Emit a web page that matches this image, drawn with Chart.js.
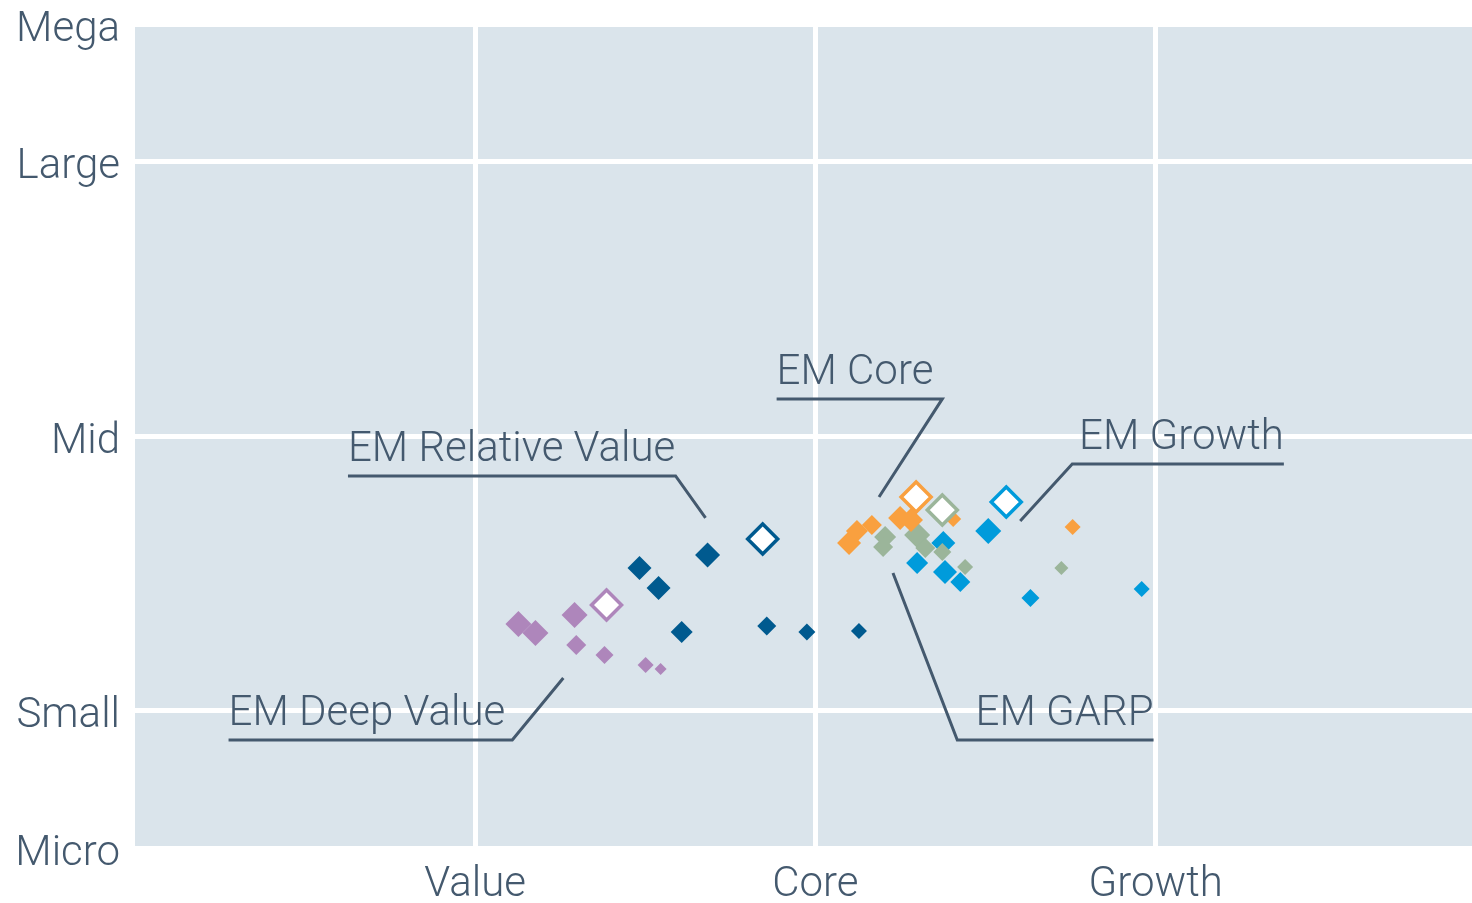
<!DOCTYPE html>
<html>
<head>
<meta charset="utf-8">
<script src="https://cdn.jsdelivr.net/npm/chart.js@4.4.1/dist/chart.umd.min.js"></script>
<style>
  html, body { margin: 0; padding: 0; background: #fff; }
  #wrap { width: 1472px; height: 903px; }
</style>
</head>
<body>
<div id="wrap"><canvas id="styleMap"></canvas></div>
<script>
// axis categories
const styleLabels = ["Value", "Core", "Growth"];
const styleTicks = [1, 2, 3];
const sizeLabels = ["Micro", "Small", "Mid", "Large", "Mega"];
const sizeTicks = [0, 1, 3, 5, 6];

// EM Deep Value
const deepValueX = [1.127, 1.177, 1.292, 1.297, 1.380, 1.501, 1.545];
const deepValueY = [1.631, 1.566, 1.697, 1.478, 1.405, 1.333, 1.303];
const deepValueWeight = [13, 13, 13, 10, 9, 8, 6];
const deepValueBench = [1.386, 1.769];

// EM Relative Value
const relValueX = [1.483, 1.539, 1.683, 1.607, 1.857, 1.975, 2.128];
const relValueY = [2.039, 1.893, 2.134, 1.573, 1.617, 1.573, 1.580];
const relValueWeight = [12, 12, 12.5, 11, 9.5, 8.5, 8];
const relValueBench = [1.845, 2.250];

// EM Core
const coreX = [2.099, 2.122, 2.166, 2.249, 2.281, 2.405, 2.756];
const coreY = [2.221, 2.308, 2.352, 2.403, 2.388, 2.396, 2.337];
const coreWeight = [12, 11, 10, 12, 12, 8, 8];
const coreBench = [2.296, 2.556];

// EM GARP
const garpX = [2.205, 2.199, 2.299, 2.323, 2.373, 2.440, 2.723];
const garpY = [2.265, 2.192, 2.279, 2.185, 2.155, 2.046, 2.039];
const garpWeight = [11, 10, 13, 10, 9, 8, 7];
const garpBench = [2.373, 2.461];

// EM Growth
const growthX = [2.508, 2.376, 2.299, 2.381, 2.426, 2.632, 2.959];
const growthY = [2.308, 2.221, 2.075, 2.010, 1.937, 1.820, 1.886];
const growthWeight = [13, 12, 11, 12, 10, 9, 8];
const growthBench = [2.561, 2.519];

const ink = "#44596e";
const font = "Roboto, 'Liberation Sans', Arial, sans-serif";
const fontSize = 42;

const series = [
  { name: "EM Deep Value", x: deepValueX, y: deepValueY, w: deepValueWeight, bench: deepValueBench, color: "#ae86bb" },
  { name: "EM Relative Value", x: relValueX, y: relValueY, w: relValueWeight, bench: relValueBench, color: "#005a8f" },
  { name: "EM Core", x: coreX, y: coreY, w: coreWeight, bench: coreBench, color: "#f9a03f" },
  { name: "EM GARP", x: garpX, y: garpY, w: garpWeight, bench: garpBench, color: "#9bb59a" },
  { name: "EM Growth", x: growthX, y: growthY, w: growthWeight, bench: growthBench, color: "#009bdb" },
];

// callout leader lines, in data units (first point is where the label sits)
const callouts = [
  { text: "EM Relative Value", align: "left", path: [[0.626, 2.709], [1.589, 2.709], [1.677, 2.403]] },
  { text: "EM Core", align: "left", path: [[1.886, 3.270], [2.373, 3.270], [2.187, 2.556]] },
  { text: "EM Growth", align: "right", path: [[3.377, 2.796], [2.755, 2.796], [2.602, 2.381]] },
  { text: "EM GARP", align: "right", path: [[2.994, 0.786], [2.417, 0.786], [2.228, 2.002]] },
  { text: "EM Deep Value", align: "left", path: [[0.275, 0.786], [1.109, 0.786], [1.259, 1.238]] },
];

const datasets = [];
series.forEach(s => {
  datasets.push({
    label: s.name,
    data: s.x.map((v, i) => ({ x: v, y: s.y[i] })),
    pointStyle: "rectRot",
    pointRadius: s.w,
    pointHoverRadius: s.w,
    backgroundColor: s.color,
    borderColor: s.color,
    borderWidth: 0,
    order: 2,
  });
});
series.forEach(s => {
  datasets.push({
    label: s.name + " benchmark",
    data: [{ x: s.bench[0], y: s.bench[1] }],
    pointStyle: "rectRot",
    pointRadius: 15,
    pointHoverRadius: 15,
    backgroundColor: "#ffffff",
    borderColor: s.color,
    borderWidth: 3.5,
    order: 1,
  });
});

const plotBackground = {
  id: "plotBackground",
  beforeDraw(chart) {
    const { ctx, chartArea: a } = chart;
    ctx.save();
    ctx.fillStyle = "#dae4eb";
    ctx.fillRect(a.left, a.top, a.right - a.left, a.bottom - a.top);
    ctx.restore();
  },
};

const calloutPlugin = {
  id: "callouts",
  afterDatasetsDraw(chart) {
    const { ctx, scales: { x, y } } = chart;
    ctx.save();
    ctx.strokeStyle = ink;
    ctx.fillStyle = ink;
    ctx.lineWidth = 3;
    ctx.font = "300 " + fontSize + "px " + font;
    ctx.textBaseline = "alphabetic";
    callouts.forEach(c => {
      ctx.beginPath();
      c.path.forEach(([dx, dy], i) => {
        const px = x.getPixelForValue(dx), py = y.getPixelForValue(dy);
        if (i === 0) ctx.moveTo(px, py); else ctx.lineTo(px, py);
      });
      ctx.stroke();
      ctx.textAlign = c.align;
      const tx = x.getPixelForValue(c.path[0][0]);
      const ty = y.getPixelForValue(c.path[0][1]) - 15;
      ctx.fillText(c.text, tx, ty);
    });
    ctx.restore();
  },
};

const noPad = scale => {
  scale.paddingTop = 0;
  scale.paddingBottom = 0;
  scale.paddingLeft = 0;
  scale.paddingRight = 0;
};

new Chart(document.getElementById("styleMap"), {
  type: "scatter",
  data: { datasets },
  plugins: [plotBackground, calloutPlugin],
  options: {
    responsive: true,
    maintainAspectRatio: false,
    animation: false,
    events: [],
    layout: { autoPadding: false, padding: { top: 24, right: 0, left: 0, bottom: 0 } },
    plugins: { legend: { display: false }, tooltip: { enabled: false } },
    scales: {
      x: {
        type: "linear",
        min: 0,
        max: 3.93,
        afterBuildTicks: scale => { scale.ticks = styleTicks.map(v => ({ value: v })); },
        afterFit: scale => { scale.height = 55; noPad(scale); },
        ticks: {
          autoSkip: false,
          maxRotation: 0,
          padding: 16,
          color: ink,
          font: { family: font, size: fontSize, weight: 300, lineHeight: 1 },
          callback: v => styleLabels[styleTicks.indexOf(v)],
        },
        grid: { color: "#ffffff", lineWidth: 5, drawTicks: false },
        border: { display: false },
      },
      y: {
        type: "linear",
        min: 0,
        max: 6,
        afterBuildTicks: scale => { scale.ticks = sizeTicks.map(v => ({ value: v })); },
        afterFit: scale => { scale.width = 135; noPad(scale); },
        ticks: {
          autoSkip: false,
          padding: 15,
          labelOffset: 6,
          color: ink,
          font: { family: font, size: fontSize, weight: 300, lineHeight: 1 },
          callback: v => sizeLabels[sizeTicks.indexOf(v)],
        },
        grid: { color: "#ffffff", lineWidth: 5, drawTicks: false },
        border: { display: false },
      },
    },
  },
});
</script>
</body>
</html>
